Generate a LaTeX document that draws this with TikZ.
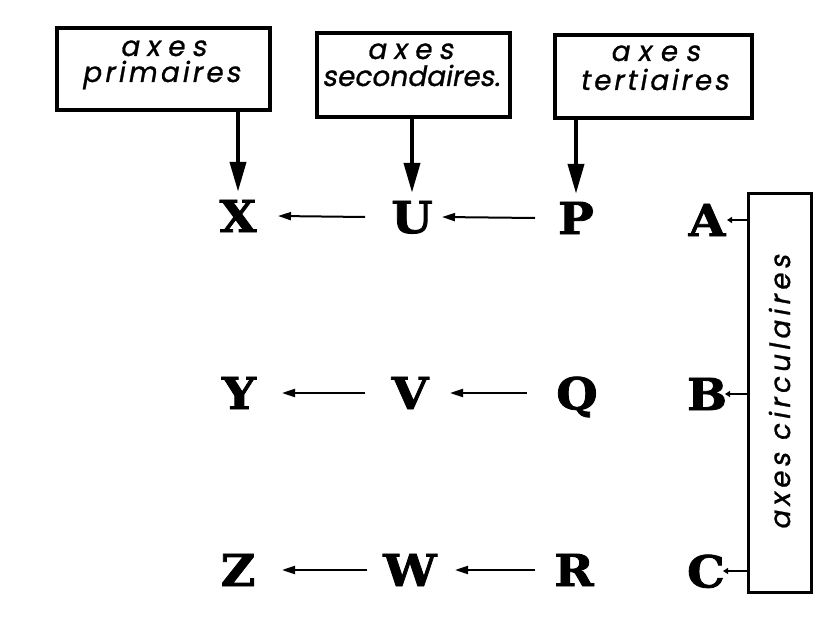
\documentclass[tikz,border=0pt]{standalone}
\usepackage{fontspec}
\usetikzlibrary{arrows.meta}
\newfontfamily\letterfont{DejaVu Serif}[FakeBold=1.8,FakeStretch=1.08]
\newfontfamily\handfont{Poppins}[FakeSlant=0.18,FakeBold=0.9]
\begin{document}
\begin{tikzpicture}[x=1pt,y=-1pt,
  hbox/.style={draw,line width=3.5pt,inner sep=0pt},
  tallbox/.style={draw,line width=3pt,inner sep=0pt},
  hand/.style={inner sep=0pt,anchor=base,font=\handfont\fontsize{28}{28}\selectfont},
  letter/.style={inner sep=0pt,text depth=0pt,font=\letterfont\bfseries\fontsize{44}{44}\selectfont},
  varrow/.style={line width=4pt,-{Triangle[length=30pt,width=16pt]}},
  harrow/.style={line width=2pt,-{Triangle[length=13pt,width=8pt]}},
  tickarrow/.style={line width=2pt,-{Triangle[length=5pt,width=6pt]}}]
\useasboundingbox[fill=white] (0,0) rectangle (831,626);
% top boxes
\node[hbox,minimum width=213pt,minimum height=82pt] (b1) at (163.5,69) {};
\node[hand] (t1a) at (163,56) {\addfontfeature{LetterSpace=26}axes};
\node[hand] (t1b) at (161,82) {\addfontfeature{LetterSpace=11}primaires};
\node[hbox,minimum width=193pt,minimum height=84pt] (b2) at (413.5,75) {};
\node[hand] (t2a) at (410,59) {\addfontfeature{LetterSpace=26}axes};
\node[hand] (t2b) at (411,86) {secondaires.};
\node[hbox,minimum width=197pt,minimum height=83pt] (b3) at (653.5,76.5) {};
\node[hand] (t3a) at (655,61) {\addfontfeature{LetterSpace=30}axes};
\node[hand] (t3b) at (654,90) {\addfontfeature{LetterSpace=10}tertiaires};
% letters
\node[letter] (X) at (238,216) {X};
\node[letter] (U) at (412,217) {U};
\node[letter] (P) at (576,218) {P};
\node[letter] (A) at (707,220) {A};
\node[letter] (Y) at (239,393) {Y};
\node[letter] (V) at (410,393) {V};
\node[letter] (Q) at (577,393) {Q};
\node[letter] (B) at (707,394) {B};
\node[letter] (Z) at (238,570) {Z};
\node[letter] (W) at (410,570) {W};
\node[letter] (R) at (574,570) {R};
\node[letter] (C) at (706,571) {C};
% tall box
\node[tallbox,rotate=90,minimum width=399pt,minimum height=63pt,
  font=\handfont\fontsize{28}{28}\selectfont] (tall) at (779.5,392.5)
  {\addfontfeature{LetterSpace=15}axes circulaires};
% vertical arrows
\draw[varrow] (b1.south -| X.center) -- ([yshift=8pt]X.north);
\draw[varrow] (b2.south -| U.center) -- ([yshift=8pt]U.north);
\draw[varrow] (b3.south -| P.center) -- ([yshift=8pt]P.north);
% horizontal arrows
\draw[harrow] ([xshift=-47pt]U.center) -- ([xshift=40pt]X.center);
\draw[harrow] ([xshift=-41pt]P.center) -- ([xshift=30pt]U.center);
\draw[harrow] ([xshift=-45pt]V.center) -- ([xshift=43pt]Y.center);
\draw[harrow] ([xshift=-50pt]Q.center) -- ([xshift=40pt]V.center);
\draw[harrow] ([xshift=-43pt]W.center) -- ([xshift=44pt]Z.center);
\draw[harrow] ([xshift=-39pt]R.center) -- ([xshift=45pt]W.center);
% connectors to circular axes
\draw[tickarrow] (tall.north |- A.center) -- ([xshift=20pt]A.center);
\draw[tickarrow] (tall.north |- B.center) -- ([xshift=18pt]B.center);
\draw[tickarrow] (tall.north |- C.center) -- ([xshift=17pt]C.center);
\end{tikzpicture}
\end{document}
